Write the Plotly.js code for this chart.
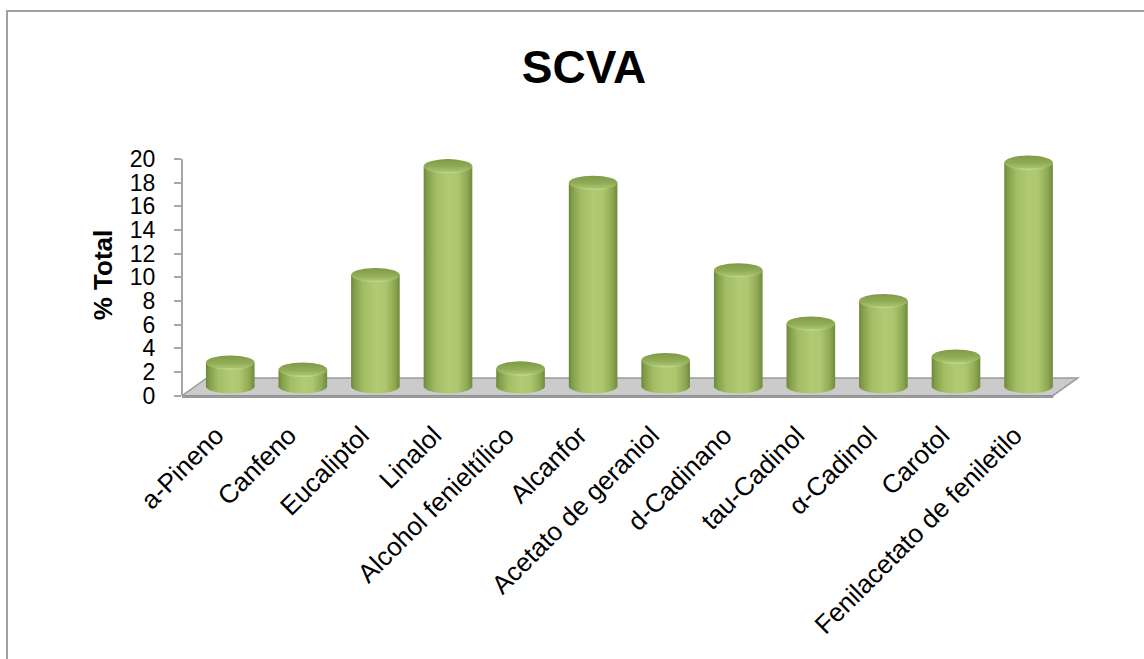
<!DOCTYPE html>
<html>
<head>
<meta charset="utf-8">
<script src="https://cdn.plot.ly/plotly-3.0.1.min.js"></script>
<style>
  html, body { margin: 0; padding: 0; background: #ffffff; }
  #chart { width: 1144px; height: 659px; }
</style>
</head>
<body>
<div id="chart"></div>
<script>
// Essential-oil composition, % of total
const compounds = [
  'a-Pineno', 'Canfeno', 'Eucaliptol', 'Linalol', 'Alcohol fenieltílico',
  'Alcanfor', 'Acetato de geraniol', 'd-Cadinano', 'tau-Cadinol',
  'α-Cadinol', 'Carotol', 'Fenilacetato de feniletilo'
];
const percentTotal = [2.0, 1.4, 9.4, 18.6, 1.5, 17.2, 2.2, 9.8, 5.3, 7.2, 2.5, 18.9];
const yTicks = [0, 2, 4, 6, 8, 10, 12, 14, 16, 18, 20];

// Pseudo-3D geometry (axis units)
const xRange = [-0.665, 11.75];
const yRange = [-0.2, 20.6];
const floorDepth = 1.5;     // floor plane depth, value units
const floorSkew = 0.344;    // horizontal shift of the floor's back edge, category units
const barBase = 0.8;        // cylinders stand in the middle of the floor
const barWidth = 0.67;
const capRy = 0.6;          // half-height of the elliptical caps

const margin = { l: 182, r: 61, t: 152, b: 261, pad: 0 };
const W = 1144, H = 659;
const plotW = W - margin.l - margin.r;
const plotH = H - margin.t - margin.b;
const pxX = p => (p - margin.l) / plotW;
const pxY = p => (H - margin.b - p) / plotH;

const font = 'Liberation Sans, Arial, Helvetica, sans-serif';
const shapes = [];

// floor plate
const fl = xRange[0], fr = fl + 12.0;
shapes.push({
  type: 'path', xref: 'x', yref: 'y', layer: 'below',
  path: `M ${fl} 0 L ${fl + floorSkew} ${floorDepth} L ${fr + floorSkew} ${floorDepth} L ${fr} 0 Z`,
  fillcolor: '#cbcbcb', line: { color: '#9c9c9c', width: 1.5 }
});
shapes.push({
  type: 'path', xref: 'x', yref: 'y', layer: 'below',
  path: `M ${fl} 0 L ${fr} 0 L ${fr} -0.15 L ${fl} -0.15 Z`,
  fillcolor: '#a3a3a3', line: { color: '#8f8f8f', width: 1 }
});

// rounded bottoms of the cylinders
const bottomStart = shapes.length;
percentTotal.forEach((v, i) => {
  shapes.push({
    type: 'circle', xref: 'x', yref: 'y', layer: 'below',
    x0: i - barWidth / 2, x1: i + barWidth / 2,
    y0: barBase - capRy, y1: barBase + capRy,
    fillcolor: '#9fba60', line: { width: 0 }
  });
});

// cylinder tops
const topStart = shapes.length;
percentTotal.forEach((v, i) => {
  shapes.push({
    type: 'circle', xref: 'x', yref: 'y', layer: 'above',
    x0: i - barWidth / 2, x1: i + barWidth / 2,
    y0: barBase + v - capRy, y1: barBase + v + capRy,
    fillcolor: '#95b05b', line: { width: 0 }
  });
});

// value axis line
shapes.push({
  type: 'line', xref: 'paper', yref: 'y', x0: 0, x1: 0, y0: 0, y1: 20,
  line: { color: '#a6a6a6', width: 2 }
});

// chart frame
shapes.push({
  type: 'path', xref: 'paper', yref: 'paper',
  path: `M ${pxX(7)} ${pxY(700)} L ${pxX(7)} ${pxY(11)} L ${pxX(1180)} ${pxY(11)}`,
  line: { color: '#a0a0a0', width: 2 }
});

const data = [{
  type: 'bar',
  x: compounds,
  y: percentTotal,
  base: barBase,
  width: barWidth,
  marker: { color: '#a6c068', line: { width: 0 } },
  hoverinfo: 'x+y'
}];

const layout = {
  width: W, height: H,
  margin: margin,
  paper_bgcolor: '#ffffff',
  plot_bgcolor: 'rgba(0,0,0,0)',
  showlegend: false,
  font: { family: font, color: '#000000' },
  title: {
    text: 'SCVA',
    font: { family: font, size: 46, weight: 'bold', color: '#000000' },
    xref: 'container', yref: 'container',
    x: 584 / W, xanchor: 'center',
    y: 1 - 67 / H, yanchor: 'middle'
  },
  xaxis: {
    type: 'category',
    range: xRange,
    showline: false, showgrid: false, zeroline: false,
    ticks: '',
    tickangle: -45,
    tickfont: { family: font, size: 26, color: '#000000' },
    ticklabelstandoff: 16,
    ticklabelshift: -14,
    automargin: false
  },
  yaxis: {
    range: yRange,
    tickvals: yTicks,
    showline: false, showgrid: false, zeroline: false,
    ticks: 'outside', ticklen: 7, tickwidth: 2, tickcolor: '#a6a6a6',
    tickfont: { family: font, size: 23, color: '#000000' },
    ticklabelstandoff: 14,
    automargin: false,
    title: {
      text: '% Total',
      font: { family: font, size: 26, weight: 'bold', color: '#000000' },
      standoff: 9
    }
  },
  shapes: shapes
};

const gd = document.getElementById('chart');

function addGradient(defs, id, vertical, stops) {
  const ns = 'http://www.w3.org/2000/svg';
  const g = document.createElementNS(ns, 'linearGradient');
  g.setAttribute('id', id);
  g.setAttribute('x1', '0'); g.setAttribute('y1', '0');
  g.setAttribute('x2', vertical ? '0' : '1'); g.setAttribute('y2', vertical ? '1' : '0');
  stops.forEach(([off, col]) => {
    const s = document.createElementNS(ns, 'stop');
    s.setAttribute('offset', off);
    s.setAttribute('stop-color', col);
    g.appendChild(s);
  });
  defs.appendChild(g);
}

function shadeCylinders() {
  const defs = gd.querySelector('svg.main-svg defs');
  const body = [[0, '#6c863a'], [0.07, '#839e4a'], [0.25, '#a2bd63'], [0.5, '#b1ca73'],
                [0.7, '#adc76f'], [0.88, '#91ab55'], [1, '#718b3e']];
  addGradient(defs, 'cylBody', false, body);
  addGradient(defs, 'cylTop', true, [[0, '#7f9946'], [0.55, '#92ad58'], [0.85, '#a6c16a'], [1, '#c8dd98']]);

  gd.querySelectorAll('.barlayer .point path').forEach(p => { p.style.fill = 'url(#cylBody)'; });
  percentTotal.forEach((v, i) => {
    const b = gd.querySelector(`.shapelayer path[data-index="${bottomStart + i}"]`);
    if (b) b.style.fill = 'url(#cylBody)';
    const t = gd.querySelector(`.shapelayer path[data-index="${topStart + i}"]`);
    if (t) t.style.fill = 'url(#cylTop)';
  });
}

Plotly.newPlot(gd, data, layout, { staticPlot: true, displayModeBar: false }).then(shadeCylinders);
</script>
</body>
</html>
